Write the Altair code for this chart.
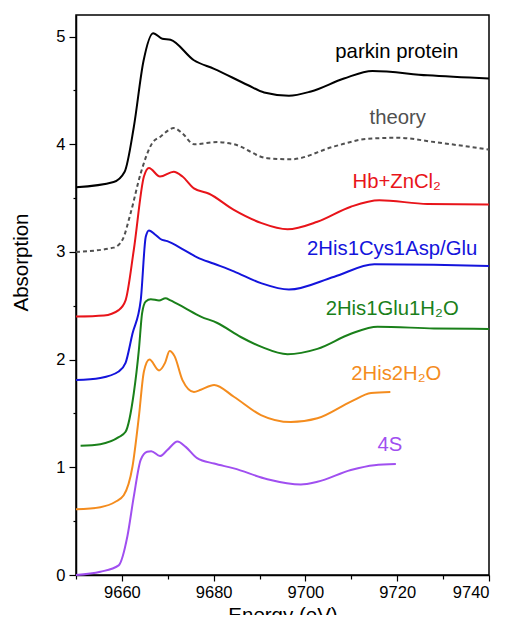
import altair as alt
import pandas as pd

# ---- data ----
parkin_e = [9650, 9658.2, 9660.6, 9662.6, 9664.7, 9666.8, 9668.8, 9670.6, 9675.7, 9680.1, 9687.4, 9691, 9696.4, 9701.2, 9708.4, 9714.6, 9726.6, 9740]
parkin_a = [3.60, 3.65, 3.745, 4.16, 4.77, 5.03, 4.98, 4.97, 4.78, 4.70, 4.55, 4.48, 4.45, 4.49, 4.61, 4.68, 4.64, 4.61]

theory_e = [9650, 9658.2, 9660.1, 9661.9, 9664.1, 9666.6, 9668.4, 9671.3, 9673.2, 9675.7, 9680.8, 9684.4, 9691.7, 9696.8, 9706.3, 9713.5, 9720.1, 9728.1, 9740]
theory_a = [3.00, 3.04, 3.11, 3.36, 3.73, 4.01, 4.07, 4.15, 4.10, 4.00, 4.02, 4.00, 3.87, 3.86, 3.98, 4.05, 4.06, 4.02, 3.95]

hb_e = [9650, 9656.1, 9659.3, 9660.8, 9662.6, 9664.8, 9665.9, 9668.3, 9671.3, 9673.2, 9675.7, 9679, 9684.4, 9690.3, 9696.1, 9702.6, 9709.9, 9716.1, 9726.6, 9740]
hb_a = [2.40, 2.41, 2.46, 2.55, 3.02, 3.70, 3.78, 3.70, 3.745, 3.70, 3.59, 3.54, 3.39, 3.27, 3.21, 3.28, 3.42, 3.48, 3.445, 3.44]

cys_e = [9650, 9655.3, 9659.3, 9660.8, 9662.3, 9664.1, 9665.2, 9665.9, 9667.3, 9668.4, 9669.9, 9673.5, 9676.4, 9680.1, 9684.4, 9690.3, 9696.4, 9706.3, 9715, 9728, 9740]
cys_a = [1.81, 1.83, 1.89, 1.97, 2.24, 2.55, 3.14, 3.20, 3.16, 3.12, 3.10, 3.02, 2.95, 2.89, 2.82, 2.71, 2.65, 2.77, 2.885, 2.88, 2.87]

glu_e = [9651, 9655.3, 9659.3, 9660.8, 9662.6, 9663.7, 9664.4, 9665.2, 9666.3, 9668.1, 9669.5, 9670.6, 9673.5, 9677.2, 9680.8, 9685.9, 9690.3, 9696.1, 9702.6, 9709.9, 9715.7, 9728, 9740]
glu_a = [1.20, 1.215, 1.28, 1.33, 1.69, 2.09, 2.43, 2.54, 2.56, 2.55, 2.57, 2.55, 2.485, 2.40, 2.34, 2.21, 2.12, 2.05, 2.10, 2.24, 2.305, 2.29, 2.285]

h2o_e = [9650, 9655.3, 9658.6, 9660.4, 9662.3, 9663.7, 9664.8, 9666, 9668.1, 9669.4, 9670.4, 9671.5, 9673.2, 9675.7, 9677.2, 9680.1, 9684.4, 9690.3, 9696.8, 9702.6, 9709.9, 9714.3, 9718.5]
h2o_a = [0.61, 0.63, 0.68, 0.74, 1.005, 1.47, 1.89, 2.00, 1.90, 1.97, 2.08, 2.03, 1.81, 1.70, 1.72, 1.765, 1.655, 1.485, 1.42, 1.455, 1.61, 1.69, 1.70]

s4_e = [9650, 9655.3, 9659.3, 9661.2, 9662.6, 9664.1, 9665.5, 9666.4, 9668.3, 9669.9, 9672.1, 9673.9, 9676.4, 9680.1, 9684.4, 9691.7, 9699, 9702.6, 9709.9, 9715, 9719.7]
s4_a = [0.00, 0.03, 0.09, 0.36, 0.73, 1.07, 1.145, 1.15, 1.105, 1.16, 1.24, 1.19, 1.085, 1.035, 0.99, 0.89, 0.84, 0.865, 0.975, 1.02, 1.03]

series_names = ["parkin protein", "theory", "Hb+ZnCl₂", "2His1Cys1Asp/Glu", "2His1Glu1H₂O", "2His2H₂O", "4S"]
series_colors = ["#000000", "#505050", "#e8141a", "#1414dc", "#1a801a", "#f48c1e", "#a04ff0"]
series_data = [(parkin_e, parkin_a), (theory_e, theory_a), (hb_e, hb_a), (cys_e, cys_a),
               (glu_e, glu_a), (h2o_e, h2o_a), (s4_e, s4_a)]

label_e = [9719.9, 9720.1, 9719.9, 9718.9, 9718.9, 9719.8, 9718.4]
label_a = [4.86, 4.24, 3.65, 3.03, 2.47, 1.87, 1.21]

x_ticks = [9660, 9680, 9700, 9720, 9740]
x_minor = [9650, 9670, 9690, 9710, 9730]
y_ticks = [0, 1, 2, 3, 4, 5]
y_minor = [0.5, 1.5, 2.5, 3.5, 4.5]

rows = []
for name, (es, av) in zip(series_names, series_data):
    for e, a in zip(es, av):
        rows.append({"series": name, "energy": e, "absorption": a})
df = pd.DataFrame(rows)
lab = pd.DataFrame({"series": series_names, "energy": label_e, "absorption": label_a})

FONT = "Liberation Sans"
xscale = alt.Scale(domain=[9650, 9740], nice=False, zero=False)
yscale = alt.Scale(domain=[0, 5.2], nice=False, zero=False)
color = alt.Color("series:N", scale=alt.Scale(domain=series_names, range=series_colors), legend=None)

x_main = alt.X("energy:Q", scale=xscale, title="Energy (eV)",
               axis=alt.Axis(values=x_ticks, format="d", tickSize=6, labelFontSize=16.5,
                             labelPadding=3, titleFontSize=20.5, titleY=46,
                             titleBaseline="alphabetic", grid=False, orient="bottom"))
y_main = alt.Y("absorption:Q", scale=yscale, title="Absorption",
               axis=alt.Axis(values=y_ticks, format="d", tickSize=7, labelFontSize=16.5,
                             labelPadding=4, titleFontSize=20.5, titleX=-49, titleY=247,
                             titleBaseline="alphabetic", grid=False, orient="left"))

x_none = alt.X("energy:Q", scale=xscale, axis=None)
y_none = alt.Y("absorption:Q", scale=yscale, axis=None)

solid = alt.Chart(df).transform_filter(alt.datum.series != "theory").mark_line(
    strokeWidth=2, interpolate="monotone").encode(x=x_main, y=y_main, color=color, detail="series:N")

dashed = alt.Chart(df).transform_filter(alt.datum.series == "theory").mark_line(
    strokeWidth=2, strokeDash=[4, 3], interpolate="monotone").encode(x=x_none, y=y_none, color=color)

labels = alt.Chart(lab).mark_text(font=FONT, fontSize=20.3, align="center", baseline="middle").encode(
    x=x_none, y=y_none, text="series:N", color=color)

minor = alt.Chart(pd.DataFrame({"energy": [9650], "absorption": [0]})).mark_point(opacity=0).encode(
    x=alt.X("energy:Q", scale=xscale,
            axis=alt.Axis(values=x_minor, labels=False, tickSize=4, title=None, grid=False,
                          orient="bottom", domain=False)),
    y=alt.Y("absorption:Q", scale=yscale,
            axis=alt.Axis(values=y_minor, labels=False, tickSize=3, title=None, grid=False,
                          orient="left", domain=False)))

chart = alt.layer(solid, dashed, labels, minor).resolve_axis(x="independent", y="independent").properties(
    width=413, height=560,
    autosize=alt.AutoSizeParams(type="none"),
    padding={"left": 68, "top": 7, "right": 10, "bottom": 40},
).configure_view(stroke="#000000", strokeWidth=1.5).configure_axis(
    labelFont=FONT, titleFont=FONT, labelColor="#000000", titleColor="#000000",
    titleFontWeight="normal", domainColor="#000000", tickColor="#000000", domainWidth=1.5, tickWidth=1.2
)

chart.save("out.html", embed_options={"renderer": "svg", "actions": False})
